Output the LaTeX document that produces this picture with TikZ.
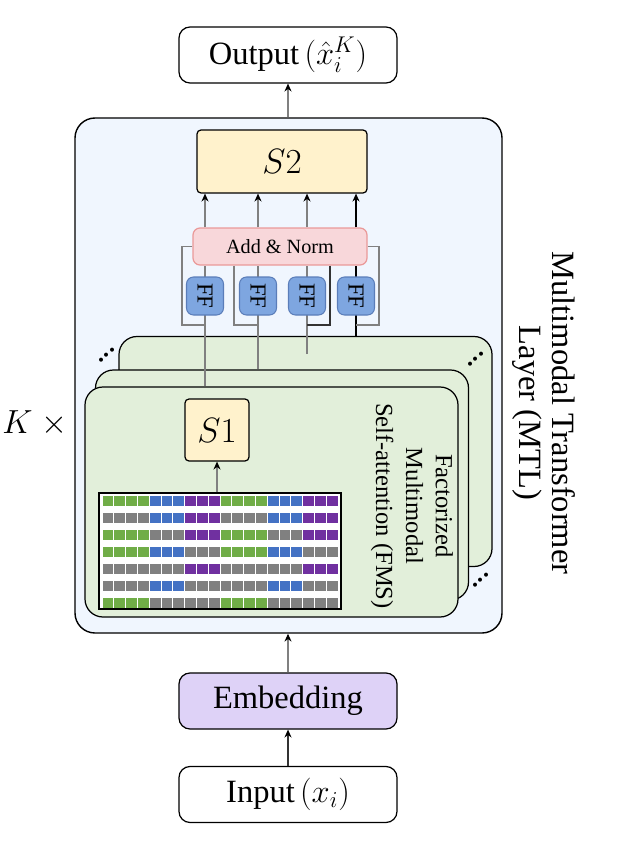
\documentclass[tikz,border=0pt]{standalone}
\usepackage{fix-cm}
\usepackage{fontspec}
\setmainfont{Liberation Serif}
\usetikzlibrary{arrows.meta}

\definecolor{mtlblue}{RGB}{240,246,254}
\definecolor{layergreen}{RGB}{226,239,218}
\definecolor{boxyellow}{RGB}{255,242,204}
\definecolor{normpink}{RGB}{248,215,218}
\definecolor{normedge}{RGB}{234,153,153}
\definecolor{ffblue}{RGB}{126,166,224}
\definecolor{ffedge}{RGB}{90,125,185}
\definecolor{embpurple}{RGB}{222,210,247}
\definecolor{linegray}{RGB}{128,128,128}
\definecolor{tokgreen}{RGB}{112,173,71}
\definecolor{tokblue}{RGB}{68,114,196}
\definecolor{tokpurple}{RGB}{112,48,160}
\definecolor{tokgray}{RGB}{128,128,128}

\tikzstyle{iobox}=[draw, line width=0.7pt, rounded corners=2.2mm,
    minimum width=43.6mm, minimum height=11.2mm, inner sep=0pt,
    font=\fontsize{18.5}{22}\selectfont]
\tikzstyle{mtlbox}=[draw, line width=0.8pt, fill=mtlblue, rounded corners=4mm,
    minimum width=85.4mm, minimum height=103mm, inner sep=0pt]
\tikzstyle{layerbox}=[draw, line width=0.7pt, fill=layergreen, rounded corners=3.6mm,
    minimum width=74.6mm, minimum height=46mm, inner sep=0pt]
\tikzstyle{sbox}=[draw, line width=0.7pt, fill=boxyellow, rounded corners=0.8mm,
    inner sep=0pt, font=\fontsize{20}{24}\selectfont]
\tikzstyle{normbox}=[draw=normedge, fill=normpink, line width=0.7pt, rounded corners=1.4mm,
    minimum width=34.8mm, minimum height=7.4mm, inner sep=0pt,
    font=\fontsize{11.5}{13}\selectfont]
\tikzstyle{ffbox}=[draw=ffedge, fill=ffblue, line width=0.6pt, rounded corners=1.4mm,
    minimum width=7.6mm, minimum height=7.4mm, inner sep=0pt, rotate=-90,
    font=\fontsize{13}{15}\selectfont]
\tikzstyle{arr}=[-{Stealth[length=4.5pt,width=4pt,color=black]}, line width=0.6pt]
\tikzstyle{col}=[line width=0.6pt, linegray]
\tikzstyle{dotsnode}=[rotate=45, inner sep=0pt, font=\fontsize{14}{16}\selectfont\bfseries]

\begin{document}
\begin{tikzpicture}[x=0.2mm, y=-0.2mm]
        \useasboundingbox (0,0) rectangle (639,850);
        \node (mtl) at (288.5,375.5) [mtlbox] {};
        \node (out) at (288,55) [iobox] {Output\,$(\hat{x}_i^K)$};
        \node (emb) at (288,701) [iobox, fill=embpurple] {Embedding};
        \node (inp) at (288,794.5) [iobox] {Input\,$(x_i)$};
        \node (s2) at (282,161.5) [sbox, minimum width=34mm, minimum height=12.6mm] {$S2$};
        \node (back) at (305.5,451.5) [layerbox] {};
        \node (mid) at (282,485) [layerbox] {};
        \node (front) at (271.5,502) [layerbox] {};
        \node (s1) at (217,430) [sbox, minimum width=12.8mm, minimum height=12.4mm] {$S1$};
        \node (grid) at (220,551) [draw, line width=0.8pt, fill=white, inner sep=0pt,
            minimum width=48.4mm, minimum height=23.2mm] {};
        \foreach \r/\mg/\mb/\mp in {0/1/1/1,1/0/1/1,2/1/0/1,3/1/1/0,4/0/0/1,5/0/1/0,6/1/0/0}
            \foreach \s/\n/\hue/\on in {0/4/tokgreen/\mg,4/3/tokblue/\mb,7/3/tokpurple/\mp,
                                        10/4/tokgreen/\mg,14/3/tokblue/\mb,17/3/tokpurple/\mp} {
                \ifnum\on=1 \edef\fc{\hue}\else\edef\fc{tokgray}\fi
                \foreach \k in {1,...,\n} {
                    \pgfmathsetmacro\cx{102.5+11.8*(\s+\k-1)}
                    \fill[\fc] (\cx,496+17*\r) rectangle ++(10.8,10);
                }
            }
        \node (fms) at (412,506) [rotate=-90, align=center, font=\fontsize{14}{17}\selectfont]
            {Factorized\\Multimodal\\Self-attention (FMS)};
        \node (mtllabel) at (544,413) [rotate=-90, align=center, font=\fontsize{18.5}{19}\selectfont]
            {Multimodal Transformer\\Layer (MTL)};
        \node (ktimes) at (35,423) [font=\fontsize{19}{22}\selectfont] {$K\;\times$};
        \node (addnorm) at (280,246.5) [normbox] {Add \& Norm};
        \coordinate (c1) at (205,296);
        \coordinate (c2) at (258,296);
        \coordinate (c3) at (307,296);
        \coordinate (c4) at (356,296);
        \coordinate (c3end) at (307,354);
        \coordinate (j1) at (205,325);
        \coordinate (j2) at (258,325);
        \coordinate (j3) at (307,325);
        \coordinate (j4) at (356,325);
        \draw[col] (front.north -| c1) -- (addnorm.south -| c1);
        \draw[col] (mid.north -| c2) -- (addnorm.south -| c2);
        \draw[col] (c3end) -- (addnorm.south -| c3);
        \draw[col, black] (back.north -| c4) -- (addnorm.south -| c4);
        \draw[col] (addnorm.west) -| (182,325) -- (j1);
        \draw[col] (234,0 |- addnorm.south) |- (j2);
        \draw[col, black!80] (330,0 |- addnorm.south) |- (j3);
        \draw[col] (addnorm.east) -| (379,325) -- (j4);
        \node (ff1) at (c1) [ffbox] {FF};
        \node (ff2) at (c2) [ffbox] {FF};
        \node (ff3) at (c3) [ffbox] {FF};
        \node (ff4) at (c4) [ffbox] {FF};
        \foreach \c in {c1,c2,c3}
            \draw[arr, linegray] (addnorm.north -| \c) -- (s2.south -| \c);
        \draw[arr] (addnorm.north -| c4) -- (s2.south -| c4);
        \draw[arr, linegray] (grid.north -| s1) -- (s1.south);
        \draw[arr, linegray] (mtl.north -| out) -- (out.south);
        \draw[arr, linegray] (emb.north) -- (mtl.south -| emb);
        \draw[arr, black!80] (inp.north) -- (emb.south);
        \node (dotsa) at (107,355) [dotsnode] {.\kern0.8pt.\kern0.8pt.};
        \node (dotsb) at (476,359) [dotsnode] {.\kern0.8pt.\kern0.8pt.};
        \node (dotsc) at (481,580) [dotsnode] {.\kern0.8pt.\kern0.8pt.};
\end{tikzpicture}
\end{document}
